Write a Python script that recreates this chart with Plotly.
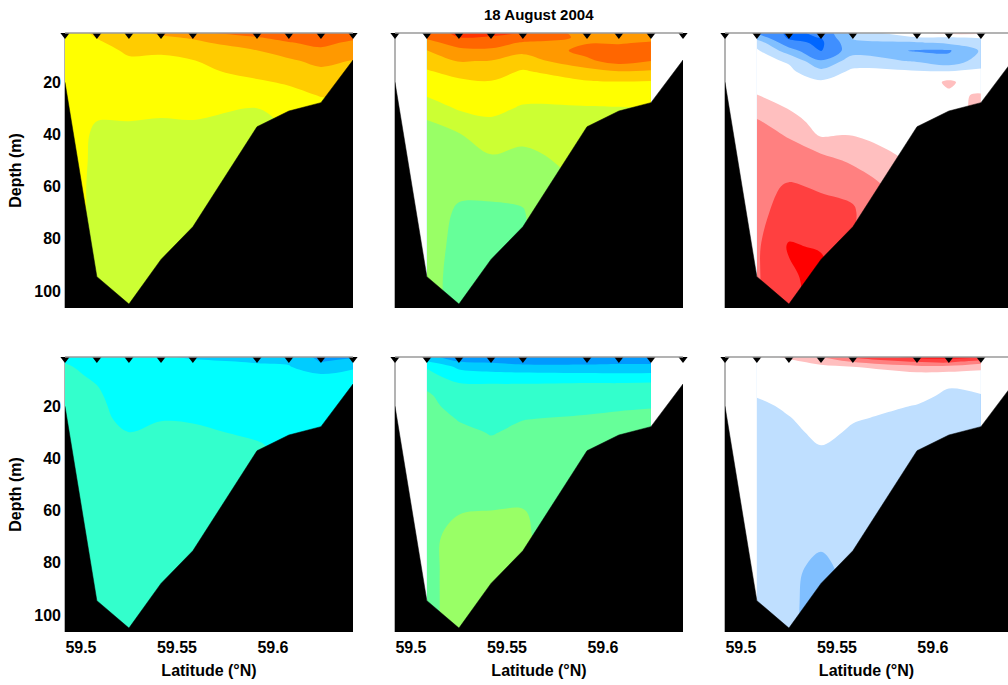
import numpy as np
import plotly.graph_objects as go

# ---------------- data ----------------
TITLE = "18 August 2004"
LAT = [59.4917, 59.5083, 59.5250, 59.5417, 59.5583, 59.5917, 59.6083, 59.6250, 59.6417]
BOTTOM = [20.1, 94.5, 105.0, 87.9, 75.4, 37.1, 31.1, 27.9, 11.6]
DEPTH = [1, 3, 5, 8, 12, 16, 20, 25, 30, 35, 40, 50, 60, 70, 83, 95, 106.5]
XTICKS = [59.5, 59.55, 59.6]
XTICKTEXT = ["59.5", "59.55", "59.6"]
YTICKS = [20, 40, 60, 80, 100]

# values per station (columns), listed top -> bottom at DEPTH
# panel A (top-left), colour-class units, stations 1-9
A = [
    [8.6, 8.6, 8.6, 8.6, 8.55, 8.5, 8.5, 8.5, 8.5, 8.5, 8.5, 8.5, 8.5, 8.5, 8.5, 8.5, 8.5],
    [9.15, 9.02, 8.9, 8.75, 8.6, 8.5, 8.4, 8.3, 8.15, 8.0, 7.85, 7.8, 7.75, 7.75, 7.7, 7.7, 7.7],
    [9.7, 9.5, 9.3, 9.1, 8.9, 8.8, 8.65, 8.45, 8.25, 8.0, 7.8, 7.7, 7.6, 7.6, 7.6, 7.6, 7.6],
    [10.2, 9.85, 9.55, 9.1, 8.85, 8.7, 8.55, 8.35, 8.15, 7.95, 7.8, 7.7, 7.6, 7.6, 7.6, 7.6, 7.6],
    [10.9, 10.1, 9.8, 9.45, 8.95, 8.8, 8.6, 8.4, 8.2, 7.98, 7.8, 7.7, 7.6, 7.6, 7.6, 7.6, 7.6],
    [11.35, 10.95, 10.55, 9.98, 9.6, 9.25, 8.9, 8.45, 8.0, 7.8, 7.7, 7.6, 7.6, 7.6, 7.6, 7.6, 7.6],
    [11.5, 11.25, 10.95, 10.4, 9.85, 9.45, 9.1, 8.75, 8.4, 8.1, 7.9, 7.7, 7.6, 7.6, 7.6, 7.6, 7.6],
    [11.7, 11.4, 11.2, 10.85, 10.25, 9.8, 9.45, 9.05, 8.7, 8.4, 8.2, 8.0, 7.9, 7.9, 7.9, 7.9, 7.9],
    [11.5, 11.15, 10.85, 10.45, 9.95, 9.6, 9.3, 9.0, 8.8, 8.6, 8.5, 8.4, 8.3, 8.3, 8.3, 8.3, 8.3],
]
# panel B (top-middle), stations 2-8
B = [
    [11.5, 11.15, 10.7, 9.97, 9.4, 8.9, 8.5, 8.07, 7.5, 6.95, 6.7, 6.5, 6.4, 6.35, 6.3, 6.3, 6.3],
    [12.25, 11.98, 11.4, 10.75, 10.05, 9.35, 8.8, 8.45, 8.1, 7.55, 6.95, 6.6, 6.15, 5.9, 5.8, 5.7, 5.7],
    [12.3, 11.9, 11.45, 10.8, 9.95, 9.4, 8.95, 8.65, 8.25, 7.88, 7.5, 6.85, 6.2, 5.85, 5.8, 5.75, 5.75],
    [12.05, 11.6, 10.9, 10.25, 9.5, 8.9, 8.6, 8.25, 7.9, 7.55, 7.22, 6.75, 6.2, 5.95, 5.9, 5.9, 5.9],
    [10.5, 10.8, 10.95, 11.3, 10.8, 9.6, 8.9, 8.4, 7.92, 7.7, 7.55, 7.3, 7.2, 7.2, 7.2, 7.2, 7.2],
    [10.6, 10.8, 10.95, 11.25, 11.4, 9.95, 8.95, 8.45, 7.95, 7.7, 7.5, 7.3, 7.2, 7.2, 7.2, 7.2, 7.2],
    [10.6, 10.85, 11.05, 11.35, 11.0, 9.85, 8.9, 8.4, 8.0, 7.8, 7.7, 7.6, 7.6, 7.6, 7.6, 7.6, 7.6],
]
# panel C (top-right, difference), stations 2-8
C = [
    [-2.7, -1.9, -0.9, -0.35, -0.2, -0.1, 0.1, 0.52, 1.0, 1.6, 1.85, 2.0, 2.2, 2.25, 2.35, 2.4, 2.4],
    [-3.7, -3.65, -3.2, -2.0, -0.6, -0.3, -0.1, 0.2, 0.45, 0.9, 1.4, 2.0, 2.6, 2.9, 3.6, 3.3, 3.2],
    [-3.3, -3.48, -3.7, -3.6, -2.4, -1.2, -0.35, -0.2, -0.05, 0.1, 0.35, 1.9, 2.4, 2.8, 3.4, 3.9, 3.9],
    [-1.2, -1.4, -1.7, -1.9, -1.0, -0.3, -0.15, -0.05, 0.0, 0.15, 0.45, 1.3, 2.3, 2.6, 2.5, 2.5, 2.5],
    [0.6, -0.6, -1.6, -2.6, -1.6, -0.4, -0.2, -0.1, -0.1, -0.05, 0.1, 0.3, 0.6, 0.8, 0.8, 0.8, 0.8],
    [1.0, -0.6, -1.3, -2.6, -2.2, -0.45, 0.7, 0.3, 0.2, 0.2, 0.2, 0.2, 0.2, 0.2, 0.2, 0.2, 0.2],
    [0.9, -0.4, -1.1, -1.4, -1.0, -0.3, -0.2, 0.6, 0.7, 0.7, 0.7, 0.7, 0.7, 0.7, 0.7, 0.7, 0.7],
]
# panel D (bottom-left), stations 1-9
D = [
    [3.8, 3.95, 4.1, 4.2, 4.25, 4.3, 4.3, 4.3, 4.3, 4.3, 4.3, 4.3, 4.3, 4.3, 4.3, 4.3, 4.3],
    [3.5, 3.6, 3.7, 3.85, 4.0, 4.1, 4.15, 4.2, 4.25, 4.3, 4.3, 4.3, 4.3, 4.3, 4.3, 4.3, 4.3],
    [3.35, 3.4, 3.45, 3.5, 3.55, 3.6, 3.7, 3.8, 4.0, 4.15, 4.2, 4.25, 4.25, 4.25, 4.25, 4.25, 4.25],
    [3.05, 3.35, 3.4, 3.45, 3.5, 3.6, 3.75, 3.98, 4.1, 4.2, 4.25, 4.25, 4.25, 4.25, 4.25, 4.25, 4.25],
    [2.9, 3.1, 3.2, 3.3, 3.4, 3.55, 3.7, 3.95, 4.1, 4.15, 4.2, 4.2, 4.2, 4.2, 4.2, 4.2, 4.2],
    [2.8, 2.95, 3.1, 3.2, 3.35, 3.5, 3.6, 3.75, 3.9, 4.05, 4.1, 4.1, 4.1, 4.1, 4.1, 4.1, 4.1],
    [2.7, 2.9, 3.05, 3.2, 3.3, 3.4, 3.5, 3.6, 3.75, 3.85, 3.9, 3.9, 3.9, 3.9, 3.9, 3.9, 3.9],
    [1.7, 1.95, 2.4, 3.05, 3.2, 3.3, 3.4, 3.5, 3.6, 3.6, 3.6, 3.6, 3.6, 3.6, 3.6, 3.6, 3.6],
    [1.8, 2.4, 2.95, 3.1, 3.2, 3.3, 3.3, 3.3, 3.3, 3.3, 3.3, 3.3, 3.3, 3.3, 3.3, 3.3, 3.3],
]
# panel E (bottom-middle), stations 2-8
E = [
    [2.2, 3.05, 3.9, 4.3, 4.8, 5.15, 5.3, 5.45, 5.55, 5.6, 5.65, 5.7, 5.75, 5.8, 5.8, 5.8, 5.8],
    [1.6, 2.0, 2.8, 3.4, 4.15, 4.4, 4.6, 4.95, 5.2, 5.35, 5.45, 5.6, 5.95, 6.25, 6.3, 6.3, 6.3],
    [1.55, 1.85, 2.5, 3.3, 4.1, 4.3, 4.5, 4.75, 4.95, 5.15, 5.3, 5.6, 6.0, 6.3, 6.35, 6.35, 6.35],
    [1.5, 1.75, 2.2, 3.3, 4.1, 4.35, 4.65, 4.98, 5.15, 5.3, 5.4, 5.6, 6.02, 6.05, 6.05, 6.05, 6.05],
    [1.5, 1.75, 2.2, 3.2, 4.2, 4.5, 4.8, 5.1, 5.3, 5.45, 5.55, 5.65, 5.7, 5.7, 5.7, 5.7, 5.7],
    [1.5, 1.75, 2.3, 3.15, 4.2, 4.55, 4.9, 5.15, 5.35, 5.5, 5.6, 5.6, 5.6, 5.6, 5.6, 5.6, 5.6],
    [1.5, 1.75, 2.3, 3.2, 4.25, 4.6, 4.95, 5.2, 5.35, 5.5, 5.5, 5.5, 5.5, 5.5, 5.5, 5.5, 5.5],
]
# panel F (bottom-right, difference), stations 2-8
F = [
    [0.2, 0.1, 0.0, -0.1, -0.2, -0.45, -0.7, -0.8, -0.85, -0.9, -0.9, -0.95, -1.0, -1.0, -1.0, -1.0, -1.0],
    [0.7, 0.3, 0.1, 0.0, -0.1, -0.2, -0.35, -0.55, -0.7, -0.8, -0.9, -1.0, -1.05, -1.1, -1.3, -1.3, -1.3],
    [1.6, 0.8, 0.3, 0.1, 0.0, 0.0, -0.05, -0.15, -0.3, -0.5, -0.65, -0.9, -1.1, -1.3, -1.75, -1.9, -1.9],
    [2.8, 1.6, 0.5, 0.2, 0.1, 0.0, -0.1, -0.45, -0.6, -0.7, -0.8, -0.9, -1.0, -1.1, -1.2, -1.2, -1.2],
    [4.0, 2.6, 1.2, 0.2, 0.0, -0.2, -0.55, -0.7, -0.75, -0.8, -0.85, -0.9, -0.9, -0.9, -0.9, -0.9, -0.9],
    [4.0, 2.8, 1.2, 0.1, -0.4, -0.7, -0.8, -0.85, -0.9, -0.9, -0.9, -0.9, -0.9, -0.9, -0.9, -0.9, -0.9],
    [3.9, 2.0, 0.8, 0.1, -0.2, -0.55, -0.7, -0.8, -0.85, -0.85, -0.85, -0.85, -0.85, -0.85, -0.85, -0.85, -0.85],
]

# ---------------- styling ----------------
JET = ["#0066FF", "#0099FF", "#00CCFF", "#00FFFF", "#33FFCC", "#66FF99", "#99FF66",
       "#CCFF33", "#FFFF00", "#FFCC00", "#FF9900", "#FF6600", "#FF3300"]
JET_LEVELS = dict(start=1, end=12, size=1)
DIV = ["#0066FF", "#3F8FFF", "#80BFFF", "#BFDFFF", "#FFFFFF",
       "#FFBFBF", "#FF8080", "#FF4040", "#FF0000"]
DIV_LEVELS = dict(start=-3.5, end=3.5, size=1)

Y_TOP = 1.24
Y_BOT = 106.5
FILL_BOTTOM = 112
X_MIN = 59.4917
X_MAX = 59.6417
X_MAX_CUT = 59.6391
MARK_OFFSET = 0.75

FONT = "Liberation Sans, Arial, Helvetica, sans-serif"
W, H = 1008, 685
COLS_PX = [(65, 353), (395, 683), (725, 1008)]
ROWS_PX = [(33, 308), (357, 632)]


def stepped(colors):
    n = len(colors) - 1
    sc = []
    for j, c in enumerate(colors):
        sc.append([max(0.0, (j - 0.5) / n), c])
        sc.append([min(1.0, (j + 0.5) / n), c])
    return sc


panels = [
    (A, LAT, JET, JET_LEVELS),
    (B, LAT[1:8], JET, JET_LEVELS),
    (C, LAT[1:8], DIV, DIV_LEVELS),
    (D, LAT, JET, JET_LEVELS),
    (E, LAT[1:8], JET, JET_LEVELS),
    (F, LAT[1:8], DIV, DIV_LEVELS),
]

fig = go.Figure()
shapes = []
layout = {}
for i, (vals, xs, cols, lev) in enumerate(panels):
    k = i + 1
    xa = "x" if k == 1 else f"x{k}"
    ya = "y" if k == 1 else f"y{k}"
    z = np.array(vals).T.tolist()
    fig.add_trace(go.Contour(
        x=xs, y=DEPTH, z=z, xaxis=xa, yaxis=ya,
        autocontour=False,
        contours=dict(coloring="fill", showlines=False, **lev),
        colorscale=stepped(cols), showscale=False,
        line=dict(width=0), hoverinfo="skip"))
    # bathymetry
    fig.add_trace(go.Scatter(
        x=LAT + [LAT[-1], LAT[0]], y=BOTTOM + [FILL_BOTTOM, FILL_BOTTOM],
        xaxis=xa, yaxis=ya, mode="lines", fill="toself",
        fillcolor="black", line=dict(color="black", width=0.5),
        hoverinfo="skip", showlegend=False))
    # station markers
    fig.add_trace(go.Scatter(
        x=LAT, y=[Y_TOP + MARK_OFFSET] * len(LAT), xaxis=xa, yaxis=ya,
        mode="markers", marker=dict(symbol="triangle-down", size=8, color="black"),
        cliponaxis=False, hoverinfo="skip", showlegend=False))

    r, c = divmod(i, 3)
    x0, x1 = COLS_PX[c]
    y0, y1 = ROWS_PX[r]
    xkey = "xaxis" if k == 1 else f"xaxis{k}"
    ykey = "yaxis" if k == 1 else f"yaxis{k}"
    layout[xkey] = dict(
        domain=[x0 / W, x1 / W], anchor=ya,
        range=[X_MIN, X_MAX_CUT if c == 2 else X_MAX],
        showgrid=False, zeroline=False, showline=False, ticks="",
        tickvals=XTICKS, ticktext=XTICKTEXT, showticklabels=(r == 1),
        ticklabelstandoff=4,
        tickfont=dict(family=FONT, size=16, color="black", weight="bold"),
        automargin=False,
        title=dict(text="Latitude (°N)" if r == 1 else "", standoff=9,
                   font=dict(family=FONT, size=16, color="black", weight="bold")),
    )
    layout[ykey] = dict(
        domain=[1 - y1 / H, 1 - y0 / H], anchor=xa,
        range=[Y_BOT, Y_TOP],
        showgrid=False, zeroline=False, showline=False, ticks="",
        tickvals=YTICKS, showticklabels=(c == 0),
        ticklabelstandoff=3,
        tickfont=dict(family=FONT, size=16, color="black", weight="bold"),
        automargin=False,
        title=dict(text="Depth (m)" if c == 0 else "", standoff=8,
                   font=dict(family=FONT, size=16, color="black", weight="bold")),
    )
    dref_x = f"{xa} domain"
    dref_y = f"{ya} domain"
    shapes.append(dict(type="line", xref=dref_x, yref=dref_y, x0=0, x1=1, y0=1, y1=1,
                       line=dict(color="#9a9a9a", width=1.5), layer="above"))
    shapes.append(dict(type="line", xref=dref_x, yref=dref_y, x0=0, x1=0, y0=0, y1=1,
                       line=dict(color="#9a9a9a", width=1.5), layer="below"))

fig.update_layout(
    width=W, height=H,
    margin=dict(l=0, r=0, t=0, b=0),
    paper_bgcolor="white", plot_bgcolor="white",
    showlegend=False,
    shapes=shapes,
    annotations=[dict(text=TITLE, x=(395 + 683) / 2 / W, y=1 - 15 / H,
                      xref="paper", yref="paper", showarrow=False,
                      xanchor="center", yanchor="middle",
                      font=dict(family=FONT, size=15, color="black", weight="bold"))],
    **layout,
)

fig.write_html(
    "out.html",
    config={"displayModeBar": False},
    post_script="document.body.style.margin='0';document.body.style.overflow='hidden';",
)
